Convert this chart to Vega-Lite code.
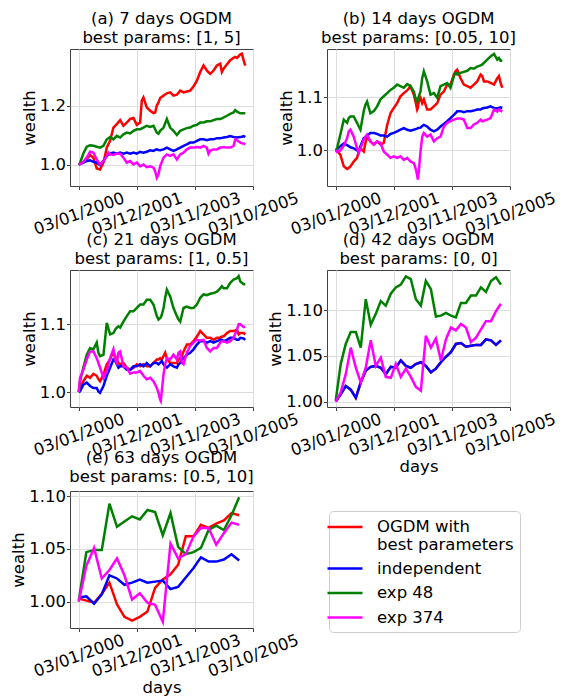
{
"$schema": "https://vega.github.io/schema/vega-lite/v6.json",
"background": "white",
"padding": {"left": 10, "top": 10, "right": 5, "bottom": 5},
"data": {"values": [
{"p":"a","d":"2000-01-03","r":1.0,"i":1.0,"g":1.0,"m":1.0},
{"p":"a","d":"2000-01-19","r":1.004,"i":1.002,"g":1.006,"m":1.002},
{"p":"a","d":"2000-02-28","r":1.008,"i":1.007,"g":1.038,"m":1.010},
{"p":"a","d":"2000-04-09","r":1.019,"i":1.0125,"g":1.061,"m":1.024},
{"p":"a","d":"2000-05-19","r":1.033,"i":1.015,"g":1.066,"m":1.044},
{"p":"a","d":"2000-06-28","r":1.024,"i":1.010,"g":1.064,"m":1.041},
{"p":"a","d":"2000-08-07","r":0.9875,"i":1.007,"g":1.061,"m":1.018},
{"p":"a","d":"2000-09-16","r":0.984,"i":0.999,"g":1.058,"m":1.001},
{"p":"a","d":"2000-10-27","r":1.007,"i":1.0125,"g":1.064,"m":1.0125},
{"p":"a","d":"2000-12-06","r":1.058,"i":1.030,"g":1.086,"m":1.030},
{"p":"a","d":"2000-12-26","r":1.070,"i":1.034,"g":1.090,"m":1.041},
{"p":"a","d":"2001-01-15","r":1.081,"i":1.0375,"g":1.094,"m":1.035},
{"p":"a","d":"2001-02-24","r":1.126,"i":1.041,"g":1.086,"m":1.033},
{"p":"a","d":"2001-04-06","r":1.1375,"i":1.0375,"g":1.098,"m":1.0375},
{"p":"a","d":"2001-05-16","r":1.151,"i":1.041,"g":1.092,"m":1.0375},
{"p":"a","d":"2001-06-25","r":1.132,"i":1.0375,"g":1.103,"m":1.024},
{"p":"a","d":"2001-08-04","r":1.143,"i":1.041,"g":1.109,"m":1.007},
{"p":"a","d":"2001-09-14","r":1.155,"i":1.0375,"g":1.106,"m":1.0125},
{"p":"a","d":"2001-10-24","r":1.158,"i":1.041,"g":1.115,"m":1.001},
{"p":"a","d":"2001-12-03","r":1.135,"i":1.0375,"g":1.120,"m":1.007},
{"p":"a","d":"2002-01-12","r":1.143,"i":1.044,"g":1.120,"m":0.995},
{"p":"a","d":"2002-02-01","r":1.217,"i":1.042,"g":1.123,"m":0.997},
{"p":"a","d":"2002-02-21","r":1.228,"i":1.041,"g":1.126,"m":1.001},
{"p":"a","d":"2002-04-02","r":1.194,"i":1.044,"g":1.132,"m":0.992},
{"p":"a","d":"2002-05-13","r":1.183,"i":1.049,"g":1.128,"m":0.995},
{"p":"a","d":"2002-06-22","r":1.175,"i":1.047,"g":1.132,"m":0.990},
{"p":"a","d":"2002-07-12","r":1.177,"i":1.050,"g":1.120,"m":0.978},
{"p":"a","d":"2002-08-01","r":1.200,"i":1.052,"g":1.109,"m":0.956},
{"p":"a","d":"2002-08-21","r":1.211,"i":1.050,"g":1.105,"m":0.967},
{"p":"a","d":"2002-09-10","r":1.226,"i":1.049,"g":1.115,"m":0.995},
{"p":"a","d":"2002-10-21","r":1.234,"i":1.052,"g":1.126,"m":1.024},
{"p":"a","d":"2002-11-30","r":1.242,"i":1.058,"g":1.155,"m":1.035},
{"p":"a","d":"2003-01-09","r":1.245,"i":1.052,"g":1.126,"m":1.030},
{"p":"a","d":"2003-02-18","r":1.234,"i":1.047,"g":1.115,"m":1.035},
{"p":"a","d":"2003-03-31","r":1.237,"i":1.052,"g":1.101,"m":1.018},
{"p":"a","d":"2003-05-10","r":1.251,"i":1.058,"g":1.115,"m":1.035},
{"p":"a","d":"2003-06-19","r":1.245,"i":1.064,"g":1.120,"m":1.041},
{"p":"a","d":"2003-07-29","r":1.248,"i":1.069,"g":1.124,"m":1.052},
{"p":"a","d":"2003-09-07","r":1.251,"i":1.075,"g":1.126,"m":1.058},
{"p":"a","d":"2003-10-17","r":1.265,"i":1.075,"g":1.132,"m":1.058},
{"p":"a","d":"2003-11-27","r":1.285,"i":1.081,"g":1.135,"m":1.060},
{"p":"a","d":"2004-01-06","r":1.314,"i":1.086,"g":1.143,"m":1.058},
{"p":"a","d":"2004-02-15","r":1.336,"i":1.086,"g":1.143,"m":1.064},
{"p":"a","d":"2004-03-26","r":1.319,"i":1.083,"g":1.147,"m":1.058},
{"p":"a","d":"2004-04-15","r":1.313,"i":1.085,"g":1.147,"m":1.0375},
{"p":"a","d":"2004-05-06","r":1.308,"i":1.086,"g":1.147,"m":1.048},
{"p":"a","d":"2004-06-15","r":1.319,"i":1.086,"g":1.151,"m":1.052},
{"p":"a","d":"2004-07-25","r":1.336,"i":1.090,"g":1.155,"m":1.052},
{"p":"a","d":"2004-09-03","r":1.342,"i":1.090,"g":1.155,"m":1.058},
{"p":"a","d":"2004-09-23","r":1.314,"i":1.091,"g":1.157,"m":1.058},
{"p":"a","d":"2004-10-14","r":1.325,"i":1.092,"g":1.160,"m":1.060},
{"p":"a","d":"2004-11-23","r":1.340,"i":1.094,"g":1.166,"m":1.058},
{"p":"a","d":"2005-01-02","r":1.354,"i":1.097,"g":1.172,"m":1.058},
{"p":"a","d":"2005-02-11","r":1.362,"i":1.094,"g":1.177,"m":1.064},
{"p":"a","d":"2005-03-03","r":1.365,"i":1.093,"g":1.185,"m":1.086},
{"p":"a","d":"2005-03-24","r":1.362,"i":1.092,"g":1.180,"m":1.083},
{"p":"a","d":"2005-05-03","r":1.374,"i":1.094,"g":1.174,"m":1.075},
{"p":"a","d":"2005-05-23","r":1.376,"i":1.095,"g":1.174,"m":1.073},
{"p":"a","d":"2005-06-12","r":1.353,"i":1.097,"g":1.174,"m":1.072},
{"p":"a","d":"2005-07-02","r":1.336,"i":1.094,"g":1.174,"m":1.069},

{"p":"b","d":"2000-01-03","r":1.0,"i":1.0,"g":1.0,"m":1.0},
{"p":"b","d":"2000-01-19","r":0.999,"i":1.002,"g":1.004,"m":0.997},
{"p":"b","d":"2000-02-28","r":0.992,"i":1.008,"g":1.030,"m":1.000},
{"p":"b","d":"2000-04-09","r":0.970,"i":1.013,"g":1.058,"m":1.009},
{"p":"b","d":"2000-05-19","r":0.965,"i":1.010,"g":1.052,"m":1.023},
{"p":"b","d":"2000-06-08","r":0.967,"i":1.008,"g":1.061,"m":1.036},
{"p":"b","d":"2000-06-28","r":0.970,"i":1.006,"g":1.064,"m":1.039},
{"p":"b","d":"2000-08-07","r":0.979,"i":1.004,"g":1.064,"m":1.026},
{"p":"b","d":"2000-09-16","r":0.986,"i":1.000,"g":1.052,"m":1.004},
{"p":"b","d":"2000-10-07","r":0.998,"i":0.998,"g":1.045,"m":0.995},
{"p":"b","d":"2000-10-27","r":1.004,"i":1.008,"g":1.039,"m":1.004},
{"p":"b","d":"2000-12-06","r":0.998,"i":1.023,"g":1.074,"m":1.020},
{"p":"b","d":"2000-12-26","r":1.014,"i":1.025,"g":1.086,"m":1.026},
{"p":"b","d":"2001-01-15","r":1.026,"i":1.028,"g":1.092,"m":1.030},
{"p":"b","d":"2001-02-24","r":1.017,"i":1.033,"g":1.070,"m":1.017},
{"p":"b","d":"2001-04-06","r":1.011,"i":1.033,"g":1.074,"m":1.011},
{"p":"b","d":"2001-05-16","r":1.017,"i":1.031,"g":1.083,"m":1.017},
{"p":"b","d":"2001-06-25","r":1.011,"i":1.028,"g":1.096,"m":1.014},
{"p":"b","d":"2001-08-04","r":1.014,"i":1.028,"g":1.102,"m":0.998},
{"p":"b","d":"2001-09-14","r":1.048,"i":1.026,"g":1.108,"m":0.992},
{"p":"b","d":"2001-10-24","r":1.070,"i":1.031,"g":1.114,"m":0.986},
{"p":"b","d":"2001-12-03","r":1.080,"i":1.033,"g":1.118,"m":0.989},
{"p":"b","d":"2002-01-12","r":1.089,"i":1.036,"g":1.124,"m":0.986},
{"p":"b","d":"2002-02-21","r":1.102,"i":1.039,"g":1.121,"m":0.989},
{"p":"b","d":"2002-04-02","r":1.108,"i":1.042,"g":1.118,"m":0.982},
{"p":"b","d":"2002-05-13","r":1.113,"i":1.039,"g":1.125,"m":0.986},
{"p":"b","d":"2002-06-22","r":1.121,"i":1.037,"g":1.121,"m":0.979},
{"p":"b","d":"2002-08-01","r":1.105,"i":1.039,"g":1.111,"m":0.976},
{"p":"b","d":"2002-08-21","r":1.092,"i":1.040,"g":1.099,"m":0.967},
{"p":"b","d":"2002-09-10","r":1.077,"i":1.041,"g":1.092,"m":0.954},
{"p":"b","d":"2002-09-18","r":1.080,"i":1.042,"g":1.095,"m":0.945},
{"p":"b","d":"2002-09-30","r":1.092,"i":1.042,"g":1.102,"m":0.960},
{"p":"b","d":"2002-10-21","r":1.099,"i":1.043,"g":1.111,"m":0.998},
{"p":"b","d":"2002-11-10","r":1.089,"i":1.046,"g":1.136,"m":1.026},
{"p":"b","d":"2002-11-30","r":1.096,"i":1.048,"g":1.149,"m":1.033},
{"p":"b","d":"2003-01-09","r":1.077,"i":1.045,"g":1.130,"m":1.026},
{"p":"b","d":"2003-02-18","r":1.077,"i":1.039,"g":1.105,"m":1.030},
{"p":"b","d":"2003-03-31","r":1.083,"i":1.036,"g":1.108,"m":1.017},
{"p":"b","d":"2003-05-10","r":1.089,"i":1.039,"g":1.099,"m":1.023},
{"p":"b","d":"2003-06-19","r":1.105,"i":1.045,"g":1.121,"m":1.026},
{"p":"b","d":"2003-07-29","r":1.111,"i":1.050,"g":1.124,"m":1.045},
{"p":"b","d":"2003-09-07","r":1.124,"i":1.055,"g":1.127,"m":1.052},
{"p":"b","d":"2003-10-17","r":1.124,"i":1.061,"g":1.118,"m":1.055},
{"p":"b","d":"2003-11-27","r":1.143,"i":1.067,"g":1.140,"m":1.058},
{"p":"b","d":"2003-12-17","r":1.149,"i":1.070,"g":1.146,"m":1.059},
{"p":"b","d":"2004-01-06","r":1.152,"i":1.074,"g":1.143,"m":1.060},
{"p":"b","d":"2004-02-15","r":1.136,"i":1.074,"g":1.146,"m":1.060},
{"p":"b","d":"2004-03-26","r":1.124,"i":1.072,"g":1.148,"m":1.058},
{"p":"b","d":"2004-05-06","r":1.121,"i":1.074,"g":1.150,"m":1.042},
{"p":"b","d":"2004-06-15","r":1.118,"i":1.074,"g":1.155,"m":1.042},
{"p":"b","d":"2004-07-25","r":1.124,"i":1.075,"g":1.154,"m":1.049},
{"p":"b","d":"2004-09-03","r":1.130,"i":1.077,"g":1.158,"m":1.052},
{"p":"b","d":"2004-10-14","r":1.143,"i":1.077,"g":1.160,"m":1.058},
{"p":"b","d":"2004-11-03","r":1.140,"i":1.079,"g":1.162,"m":1.055},
{"p":"b","d":"2004-11-23","r":1.130,"i":1.080,"g":1.165,"m":1.056},
{"p":"b","d":"2005-01-02","r":1.130,"i":1.081,"g":1.171,"m":1.058},
{"p":"b","d":"2005-02-11","r":1.127,"i":1.083,"g":1.177,"m":1.061},
{"p":"b","d":"2005-03-24","r":1.124,"i":1.080,"g":1.182,"m":1.077},
{"p":"b","d":"2005-05-03","r":1.136,"i":1.079,"g":1.171,"m":1.073},
{"p":"b","d":"2005-05-23","r":1.140,"i":1.080,"g":1.174,"m":1.077},
{"p":"b","d":"2005-06-12","r":1.127,"i":1.081,"g":1.169,"m":1.075},
{"p":"b","d":"2005-07-02","r":1.118,"i":1.080,"g":1.169,"m":1.073},

{"p":"c","d":"2000-01-03","r":1.0,"i":1.0,"g":1.0,"m":1.0},
{"p":"c","d":"2000-01-19","r":1.006,"i":1.001,"g":1.016,"m":1.021},
{"p":"c","d":"2000-02-28","r":1.016,"i":1.011,"g":1.036,"m":1.033},
{"p":"c","d":"2000-04-09","r":1.024,"i":1.014,"g":1.055,"m":1.048},
{"p":"c","d":"2000-05-19","r":1.021,"i":1.009,"g":1.065,"m":1.060},
{"p":"c","d":"2000-06-28","r":1.027,"i":1.006,"g":1.063,"m":1.060},
{"p":"c","d":"2000-08-07","r":1.024,"i":1.006,"g":1.073,"m":1.050},
{"p":"c","d":"2000-08-27","r":1.019,"i":1.001,"g":1.058,"m":1.043},
{"p":"c","d":"2000-09-16","r":1.016,"i":0.999,"g":1.053,"m":1.036},
{"p":"c","d":"2000-10-27","r":1.026,"i":1.009,"g":1.055,"m":1.021},
{"p":"c","d":"2000-12-06","r":1.041,"i":1.024,"g":1.102,"m":1.031},
{"p":"c","d":"2001-01-15","r":1.048,"i":1.036,"g":1.085,"m":1.050},
{"p":"c","d":"2001-02-24","r":1.060,"i":1.048,"g":1.087,"m":1.063},
{"p":"c","d":"2001-03-17","r":1.053,"i":1.046,"g":1.092,"m":1.048},
{"p":"c","d":"2001-04-06","r":1.048,"i":1.041,"g":1.095,"m":1.043},
{"p":"c","d":"2001-04-26","r":1.043,"i":1.036,"g":1.097,"m":1.058},
{"p":"c","d":"2001-05-16","r":1.041,"i":1.038,"g":1.095,"m":1.060},
{"p":"c","d":"2001-06-25","r":1.043,"i":1.038,"g":1.104,"m":1.038},
{"p":"c","d":"2001-08-04","r":1.036,"i":1.033,"g":1.112,"m":1.036},
{"p":"c","d":"2001-09-14","r":1.033,"i":1.033,"g":1.119,"m":1.027},
{"p":"c","d":"2001-10-24","r":1.036,"i":1.038,"g":1.119,"m":1.029},
{"p":"c","d":"2001-12-03","r":1.041,"i":1.038,"g":1.124,"m":1.029},
{"p":"c","d":"2002-01-12","r":1.038,"i":1.041,"g":1.129,"m":1.031},
{"p":"c","d":"2002-02-21","r":1.041,"i":1.038,"g":1.129,"m":1.024},
{"p":"c","d":"2002-04-02","r":1.038,"i":1.043,"g":1.136,"m":1.019},
{"p":"c","d":"2002-05-13","r":1.038,"i":1.038,"g":1.136,"m":1.021},
{"p":"c","d":"2002-06-22","r":1.043,"i":1.043,"g":1.129,"m":1.016},
{"p":"c","d":"2002-08-01","r":1.048,"i":1.043,"g":1.112,"m":1.006},
{"p":"c","d":"2002-08-21","r":1.048,"i":1.041,"g":1.107,"m":0.999},
{"p":"c","d":"2002-09-10","r":1.050,"i":1.043,"g":1.109,"m":0.989},
{"p":"c","d":"2002-09-18","r":1.049,"i":1.044,"g":1.110,"m":0.987},
{"p":"c","d":"2002-09-30","r":1.048,"i":1.046,"g":1.114,"m":1.001},
{"p":"c","d":"2002-10-21","r":1.053,"i":1.041,"g":1.124,"m":1.026},
{"p":"c","d":"2002-11-10","r":1.058,"i":1.038,"g":1.139,"m":1.041},
{"p":"c","d":"2002-11-30","r":1.050,"i":1.036,"g":1.151,"m":1.050},
{"p":"c","d":"2003-01-09","r":1.043,"i":1.041,"g":1.141,"m":1.048},
{"p":"c","d":"2003-02-18","r":1.043,"i":1.038,"g":1.124,"m":1.055},
{"p":"c","d":"2003-03-31","r":1.043,"i":1.036,"g":1.112,"m":1.048},
{"p":"c","d":"2003-04-20","r":1.048,"i":1.041,"g":1.107,"m":1.058},
{"p":"c","d":"2003-05-10","r":1.050,"i":1.043,"g":1.104,"m":1.060},
{"p":"c","d":"2003-05-30","r":1.053,"i":1.048,"g":1.114,"m":1.043},
{"p":"c","d":"2003-06-19","r":1.060,"i":1.050,"g":1.124,"m":1.041},
{"p":"c","d":"2003-07-29","r":1.070,"i":1.055,"g":1.126,"m":1.058},
{"p":"c","d":"2003-09-07","r":1.070,"i":1.058,"g":1.124,"m":1.068},
{"p":"c","d":"2003-10-17","r":1.075,"i":1.063,"g":1.124,"m":1.073},
{"p":"c","d":"2003-11-27","r":1.082,"i":1.070,"g":1.129,"m":1.077},
{"p":"c","d":"2004-01-06","r":1.090,"i":1.075,"g":1.139,"m":1.076},
{"p":"c","d":"2004-02-15","r":1.085,"i":1.075,"g":1.144,"m":1.077},
{"p":"c","d":"2004-03-26","r":1.080,"i":1.073,"g":1.143,"m":1.065},
{"p":"c","d":"2004-05-06","r":1.080,"i":1.075,"g":1.145,"m":1.060},
{"p":"c","d":"2004-06-15","r":1.077,"i":1.073,"g":1.146,"m":1.065},
{"p":"c","d":"2004-07-25","r":1.080,"i":1.075,"g":1.148,"m":1.065},
{"p":"c","d":"2004-09-03","r":1.080,"i":1.077,"g":1.153,"m":1.073},
{"p":"c","d":"2004-09-23","r":1.082,"i":1.077,"g":1.156,"m":1.075},
{"p":"c","d":"2004-10-14","r":1.082,"i":1.075,"g":1.153,"m":1.075},
{"p":"c","d":"2004-11-23","r":1.087,"i":1.077,"g":1.153,"m":1.073},
{"p":"c","d":"2005-01-02","r":1.090,"i":1.080,"g":1.161,"m":1.075},
{"p":"c","d":"2005-02-11","r":1.090,"i":1.080,"g":1.166,"m":1.080},
{"p":"c","d":"2005-03-24","r":1.092,"i":1.077,"g":1.168,"m":1.092},
{"p":"c","d":"2005-04-13","r":1.085,"i":1.077,"g":1.171,"m":1.100},
{"p":"c","d":"2005-05-03","r":1.087,"i":1.080,"g":1.163,"m":1.100},
{"p":"c","d":"2005-06-12","r":1.087,"i":1.079,"g":1.159,"m":1.096},
{"p":"c","d":"2005-07-02","r":1.085,"i":1.077,"g":1.159,"m":1.096},

{"p":"d","d":"2000-01-03","r":1.000,"i":1.000,"g":1.001,"m":1.000},
{"p":"d","d":"2000-03-03","r":1.008,"i":1.008,"g":1.041,"m":1.010},
{"p":"d","d":"2000-05-03","r":1.017,"i":1.017,"g":1.063,"m":1.030},
{"p":"d","d":"2000-07-02","r":1.013,"i":1.013,"g":1.076,"m":1.059},
{"p":"d","d":"2000-09-01","r":1.004,"i":1.004,"g":1.076,"m":1.037},
{"p":"d","d":"2000-10-31","r":1.021,"i":1.021,"g":1.059,"m":1.021},
{"p":"d","d":"2000-12-30","r":1.034,"i":1.034,"g":1.112,"m":1.037},
{"p":"d","d":"2001-02-28","r":1.038,"i":1.038,"g":1.084,"m":1.067},
{"p":"d","d":"2001-04-30","r":1.039,"i":1.039,"g":1.096,"m":1.039},
{"p":"d","d":"2001-06-29","r":1.037,"i":1.037,"g":1.110,"m":1.048},
{"p":"d","d":"2001-08-28","r":1.030,"i":1.030,"g":1.105,"m":1.027},
{"p":"d","d":"2001-10-28","r":1.038,"i":1.038,"g":1.118,"m":1.026},
{"p":"d","d":"2001-12-27","r":1.037,"i":1.037,"g":1.125,"m":1.041},
{"p":"d","d":"2002-02-25","r":1.045,"i":1.045,"g":1.128,"m":1.027},
{"p":"d","d":"2002-04-27","r":1.039,"i":1.039,"g":1.137,"m":1.036},
{"p":"d","d":"2002-06-26","r":1.037,"i":1.037,"g":1.134,"m":1.027},
{"p":"d","d":"2002-08-26","r":1.041,"i":1.041,"g":1.112,"m":1.016},
{"p":"d","d":"2002-10-25","r":1.043,"i":1.043,"g":1.105,"m":1.012},
{"p":"d","d":"2002-12-24","r":1.039,"i":1.039,"g":1.132,"m":1.072},
{"p":"d","d":"2003-02-23","r":1.032,"i":1.032,"g":1.123,"m":1.059},
{"p":"d","d":"2003-04-24","r":1.036,"i":1.036,"g":1.093,"m":1.069},
{"p":"d","d":"2003-06-23","r":1.043,"i":1.043,"g":1.094,"m":1.045},
{"p":"d","d":"2003-08-23","r":1.049,"i":1.049,"g":1.097,"m":1.068},
{"p":"d","d":"2003-10-22","r":1.054,"i":1.054,"g":1.094,"m":1.081},
{"p":"d","d":"2003-12-21","r":1.063,"i":1.063,"g":1.092,"m":1.078},
{"p":"d","d":"2004-02-20","r":1.064,"i":1.064,"g":1.108,"m":1.085},
{"p":"d","d":"2004-04-20","r":1.060,"i":1.060,"g":1.108,"m":1.081},
{"p":"d","d":"2004-06-19","r":1.061,"i":1.061,"g":1.116,"m":1.065},
{"p":"d","d":"2004-08-19","r":1.062,"i":1.062,"g":1.116,"m":1.070},
{"p":"d","d":"2004-10-18","r":1.062,"i":1.062,"g":1.125,"m":1.079},
{"p":"d","d":"2004-12-17","r":1.068,"i":1.068,"g":1.120,"m":1.088},
{"p":"d","d":"2005-02-16","r":1.067,"i":1.067,"g":1.132,"m":1.088},
{"p":"d","d":"2005-04-17","r":1.062,"i":1.062,"g":1.136,"m":1.099},
{"p":"d","d":"2005-06-16","r":1.067,"i":1.067,"g":1.128,"m":1.107},

{"p":"e","d":"2000-01-03","r":1.003,"i":1.004,"g":1.001,"m":1.000},
{"p":"e","d":"2000-04-04","r":1.001,"i":1.005,"g":1.047,"m":1.034},
{"p":"e","d":"2000-07-06","r":0.999,"i":0.998,"g":1.049,"m":1.051},
{"p":"e","d":"2000-10-07","r":1.0075,"i":1.007,"g":1.049,"m":1.022},
{"p":"e","d":"2001-01-07","r":1.018,"i":1.025,"g":1.093,"m":1.030},
{"p":"e","d":"2001-04-08","r":0.9975,"i":1.022,"g":1.071,"m":1.041},
{"p":"e","d":"2001-07-07","r":0.9856,"i":1.016,"g":1.076,"m":1.025},
{"p":"e","d":"2001-10-07","r":0.982,"i":1.018,"g":1.081,"m":1.002},
{"p":"e","d":"2002-01-08","r":0.9856,"i":1.021,"g":1.078,"m":1.008},
{"p":"e","d":"2002-04-10","r":0.9906,"i":1.018,"g":1.087,"m":0.999},
{"p":"e","d":"2002-07-11","r":1.013,"i":1.019,"g":1.085,"m":0.997},
{"p":"e","d":"2002-10-12","r":1.021,"i":1.020,"g":1.063,"m":0.981},
{"p":"e","d":"2003-01-13","r":1.026,"i":1.012,"g":1.084,"m":1.055},
{"p":"e","d":"2003-04-15","r":1.035,"i":1.014,"g":1.052,"m":1.041},
{"p":"e","d":"2003-07-16","r":1.062,"i":1.023,"g":1.045,"m":1.045},
{"p":"e","d":"2003-10-18","r":1.062,"i":1.032,"g":1.047,"m":1.062},
{"p":"e","d":"2004-01-14","r":1.073,"i":1.042,"g":1.051,"m":1.070},
{"p":"e","d":"2004-04-16","r":1.070,"i":1.038,"g":1.068,"m":1.070},
{"p":"e","d":"2004-07-17","r":1.074,"i":1.038,"g":1.072,"m":1.054},
{"p":"e","d":"2004-10-17","r":1.077,"i":1.040,"g":1.068,"m":1.065},
{"p":"e","d":"2005-01-17","r":1.084,"i":1.045,"g":1.082,"m":1.075},
{"p":"e","d":"2005-04-19","r":1.082,"i":1.039,"g":1.099,"m":1.073}
]},
"columns": 2,
"spacing": {"row": 84, "column": 74},
"bounds": "flush",
"concat": [
{
 "width": 183, "height": 137,
 "title": {"text": ["(a) 7 days OGDM", "best params: [1, 5]"]},
 "transform": [{"filter": "datum.p == 'a'"}, {"fold": ["r","i","g","m"], "as": ["s","v"]}],
 "mark": {"type": "line", "strokeWidth": 2.5, "clip": true},
 "encoding": {
  "x": {"field": "d", "type": "temporal", "scale": {"type": "utc", "domain": [{"year":1999,"month":9,"date":20,"utc":true},{"year":2005,"month":10,"date":3,"utc":true}]},
        "axis": {"title": null, "format": "%d/%m/%Y", "values": [{"year":2000,"month":1,"date":3,"utc":true},{"year":2001,"month":12,"date":3,"utc":true},{"year":2003,"month":11,"date":3,"utc":true},{"year":2005,"month":10,"date":3,"utc":true}]}},
  "y": {"field": "v", "type": "quantitative", "scale": {"domain": [0.928, 1.392], "nice": false, "zero": false}, "axis": {"title": "wealth", "values": [1.0, 1.2], "format": ".1f"}},
  "color": {"field": "s", "type": "nominal", "scale": {"domain": ["r","i","g","m"], "range": ["#ff0000","#0000ff","#008000","#ff00ff"]},
        "legend": {"orient": "none", "legendX": 259, "legendY": 462, "title": null, "symbolType": "M-2,0H2", "symbolSize": 306.25, "symbolStrokeWidth": 2.5, "labelFontSize": 16.5, "labelFont": "DejaVu Sans", "labelColor": "#000", "labelOffset": 22, "labelLimit": 300, "padding": 6, "strokeColor": "#cccccc", "fillColor": "white", "cornerRadius": 4, "rowPadding": 5.5,
        "encode": {"labels": {"update": {"lineHeight": {"value": 17.5}}}},
        "labelExpr": "datum.value == 'r' ? ['OGDM with', 'best parameters'] : datum.value == 'i' ? 'independent' : datum.value == 'g' ? 'exp 48' : 'exp 374'"}}
 }
},
{
 "width": 183, "height": 137,
 "title": {"text": ["(b) 14 days OGDM", "best params: [0.05, 10]"]},
 "transform": [{"filter": "datum.p == 'b'"}, {"fold": ["r","i","g","m"], "as": ["s","v"]}],
 "mark": {"type": "line", "strokeWidth": 2.5, "clip": true},
 "encoding": {
  "x": {"field": "d", "type": "temporal", "scale": {"type": "utc", "domain": [{"year":1999,"month":9,"date":20,"utc":true},{"year":2005,"month":10,"date":3,"utc":true}]},
        "axis": {"title": null, "format": "%d/%m/%Y", "values": [{"year":2000,"month":1,"date":3,"utc":true},{"year":2001,"month":12,"date":3,"utc":true},{"year":2003,"month":11,"date":3,"utc":true},{"year":2005,"month":10,"date":3,"utc":true}]}},
  "y": {"field": "v", "type": "quantitative", "scale": {"domain": [0.933, 1.191], "nice": false, "zero": false}, "axis": {"title": "wealth", "values": [1.0, 1.1], "format": ".1f"}},
  "color": {"field": "s", "type": "nominal", "scale": {"domain": ["r","i","g","m"], "range": ["#ff0000","#0000ff","#008000","#ff00ff"]}}
 }
},
{
 "width": 183, "height": 137,
 "title": {"text": ["(c) 21 days OGDM", "best params: [1, 0.5]"]},
 "transform": [{"filter": "datum.p == 'c'"}, {"fold": ["r","i","g","m"], "as": ["s","v"]}],
 "mark": {"type": "line", "strokeWidth": 2.5, "clip": true},
 "encoding": {
  "x": {"field": "d", "type": "temporal", "scale": {"type": "utc", "domain": [{"year":1999,"month":9,"date":20,"utc":true},{"year":2005,"month":10,"date":3,"utc":true}]},
        "axis": {"title": null, "format": "%d/%m/%Y", "values": [{"year":2000,"month":1,"date":3,"utc":true},{"year":2001,"month":12,"date":3,"utc":true},{"year":2003,"month":11,"date":3,"utc":true},{"year":2005,"month":10,"date":3,"utc":true}]}},
  "y": {"field": "v", "type": "quantitative", "scale": {"domain": [0.978, 1.180], "nice": false, "zero": false}, "axis": {"title": "wealth", "values": [1.0, 1.1], "format": ".1f"}},
  "color": {"field": "s", "type": "nominal", "scale": {"domain": ["r","i","g","m"], "range": ["#ff0000","#0000ff","#008000","#ff00ff"]}}
 }
},
{
 "width": 183, "height": 137,
 "title": {"text": ["(d) 42 days OGDM", "best params: [0, 0]"]},
 "transform": [{"filter": "datum.p == 'd'"}, {"fold": ["r","i","g","m"], "as": ["s","v"]}],
 "mark": {"type": "line", "strokeWidth": 2.5, "clip": true},
 "encoding": {
  "x": {"field": "d", "type": "temporal", "scale": {"type": "utc", "domain": [{"year":1999,"month":9,"date":20,"utc":true},{"year":2005,"month":10,"date":3,"utc":true}]},
        "axis": {"title": "days", "format": "%d/%m/%Y", "values": [{"year":2000,"month":1,"date":3,"utc":true},{"year":2001,"month":12,"date":3,"utc":true},{"year":2003,"month":11,"date":3,"utc":true},{"year":2005,"month":10,"date":3,"utc":true}]}},
  "y": {"field": "v", "type": "quantitative", "scale": {"domain": [0.994, 1.144], "nice": false, "zero": false}, "axis": {"title": "wealth", "values": [1.0, 1.05, 1.1], "format": ".2f"}},
  "color": {"field": "s", "type": "nominal", "scale": {"domain": ["r","i","g","m"], "range": ["#ff0000","#0000ff","#008000","#ff00ff"]}}
 }
},
{
 "width": 183, "height": 137,
 "title": {"text": ["(e) 63 days OGDM", "best params: [0.5, 10]"]},
 "transform": [{"filter": "datum.p == 'e'"}, {"fold": ["r","i","g","m"], "as": ["s","v"]}],
 "mark": {"type": "line", "strokeWidth": 2.5, "clip": true},
 "encoding": {
  "x": {"field": "d", "type": "temporal", "scale": {"type": "utc", "domain": [{"year":1999,"month":9,"date":20,"utc":true},{"year":2005,"month":10,"date":3,"utc":true}]},
        "axis": {"title": "days", "format": "%d/%m/%Y", "values": [{"year":2000,"month":1,"date":3,"utc":true},{"year":2001,"month":12,"date":3,"utc":true},{"year":2003,"month":11,"date":3,"utc":true},{"year":2005,"month":10,"date":3,"utc":true}]}},
  "y": {"field": "v", "type": "quantitative", "scale": {"domain": [0.975, 1.105], "nice": false, "zero": false}, "axis": {"title": "wealth", "values": [1.0, 1.05, 1.1], "format": ".2f"}},
  "color": {"field": "s", "type": "nominal", "scale": {"domain": ["r","i","g","m"], "range": ["#ff0000","#0000ff","#008000","#ff00ff"]}}
 }
}
],
"config": {
 "font": "DejaVu Sans",
 "view": {"stroke": "#404040", "strokeWidth": 1},
 "axis": {"labelFontSize": 16.5, "titleFontSize": 16.5, "titleFontWeight": "normal", "labelColor": "#000", "titleColor": "#000", "domain": false, "tickColor": "#404040", "tickSize": 3.5, "gridColor": "#dddddd", "gridWidth": 1, "labelFont": "DejaVu Sans", "titleFont": "DejaVu Sans"},
 "axisX": {"labelAngle": -20, "labelAlign": "center", "labelBaseline": "middle", "labelPadding": 24, "titlePadding": 0, "labelOverlap": false, "labelFlush": false},
 "axisY": {"labelPadding": 1, "titlePadding": 2, "labelOverlap": false},
 "title": {"fontSize": 16.5, "fontWeight": "normal", "font": "DejaVu Sans", "color": "#000", "offset": 3, "lineHeight": 19, "anchor": "middle"}
}
}
